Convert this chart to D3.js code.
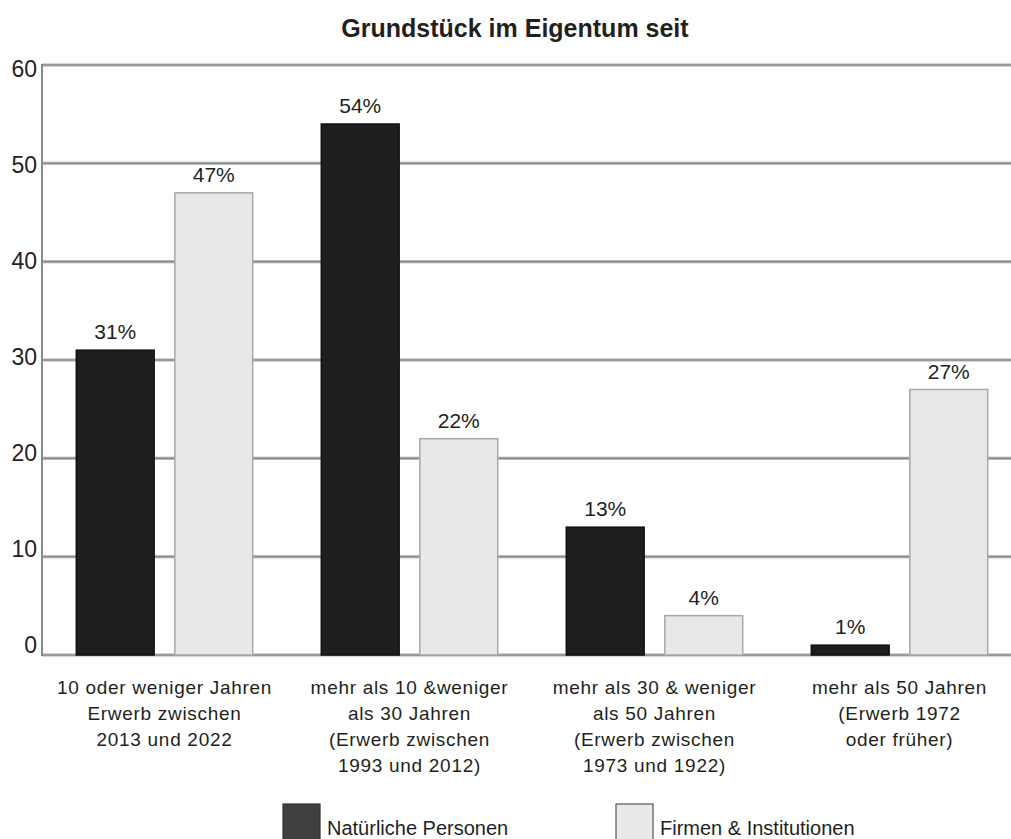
<!DOCTYPE html>
<meta charset="utf-8">
<style>
    body { margin: 0; background: #fff; }
    svg { display: block; }
    .title { font: bold 25px "Liberation Sans Narrow", "Liberation Sans", sans-serif; fill: #231f20; text-anchor: middle; }
    .ytick { font: 23px "Liberation Sans", sans-serif; fill: #231f20; text-anchor: end; }
    .val { font: 21px "Liberation Sans", sans-serif; fill: #231f20; text-anchor: middle; }
    .cat { font: 19px "Liberation Sans", sans-serif; fill: #231f20; text-anchor: middle; letter-spacing: 0.7px; }
    .leg { font: 20px "Liberation Sans", sans-serif; fill: #231f20; }
</style>
<svg width="1011" height="839"></svg>
<script src="https://d3js.org/d3.v7.min.js"></script>
<script>

    var categories = [
        ["10 oder weniger Jahren", "Erwerb zwischen", "2013 und 2022"],
        ["mehr als 10 &weniger", "als 30 Jahren", "(Erwerb zwischen", "1993 und 2012)"],
        ["mehr als 30 & weniger", "als 50 Jahren", "(Erwerb zwischen", "1973 und 1922)"],
        ["mehr als 50 Jahren", "(Erwerb 1972", "oder früher)"]
    ];
    var seriesNames = ["Natürliche Personen", "Firmen & Institutionen"];
    var natuerliche = [31, 54, 13, 1];
    var firmen = [47, 22, 4, 27];
    var yTicks = [0, 10, 20, 30, 40, 50, 60];

    var svg = d3.select("svg");

    var x0 = d3.scaleBand()
            .domain(d3.range(categories.length))
            .range([42, 1022])
            .paddingInner(0.28)
            .paddingOuter(0.14);

    var x1 = d3.scaleBand()
            .domain(d3.range(seriesNames.length))
            .range([0, x0.bandwidth()])
            .paddingInner(0.21);

    var y = d3.scaleLinear().domain([0, 60]).range([655, 65]);

    var fills = ["#1e1e1e", "#e8e8e8"];
    var strokes = ["#111", "#a8a8a8"];

    svg.append("text").attr("class", "title")
            .attr("x", 515).attr("y", 37)
            .text("Grundstück im Eigentum seit");

    // gridlines
    svg.selectAll(".grid").data(yTicks).enter().append("line")
            .attr("x1", 42).attr("x2", 1011)
            .attr("y1", function(d) { return y(d); })
            .attr("y2", function(d) { return y(d); })
            .attr("stroke", "#c8c8c8").attr("stroke-width", 3.5);
    svg.selectAll(".grid2").data(yTicks).enter().append("line")
            .attr("x1", 42).attr("x2", 1011)
            .attr("y1", function(d) { return y(d); })
            .attr("y2", function(d) { return y(d); })
            .attr("stroke", "#8a8a8a").attr("stroke-width", 1.6);

    svg.append("line")
            .attr("x1", 42).attr("x2", 42)
            .attr("y1", y(60) - 1).attr("y2", y(0) + 1)
            .attr("stroke", "#8a8a8a").attr("stroke-width", 2);

    svg.selectAll(".ytick").data(yTicks).enter().append("text")
            .attr("class", "ytick")
            .attr("x", 37)
            .attr("y", function(d) { return y(d); })
            .attr("dy", function(d) { return (-2 + d * 0.23) + "px"; })
            .text(function(d) { return d; });

    var rows = categories.map(function(c, i) {
        return [natuerliche[i], firmen[i]];
    });

    var groups = svg.selectAll(".grp").data(rows).enter().append("g")
            .attr("transform", function(d, i) { return "translate(" + x0(i) + ",0)"; });

    var bars = groups.selectAll("g").data(function(d) { return d; }).enter().append("g");

    bars.append("rect")
            .attr("x", function(d, j) { return x1(j); })
            .attr("y", function(d) { return y(d); })
            .attr("width", x1.bandwidth())
            .attr("height", function(d) { return y(0) - y(d); })
            .attr("fill", function(d, j) { return fills[j]; })
            .attr("stroke", function(d, j) { return strokes[j]; })
            .attr("stroke-width", 1.5);

    bars.append("text").attr("class", "val")
            .attr("x", function(d, j) { return x1(j) + x1.bandwidth() / 2; })
            .attr("y", function(d) { return y(d) - 11; })
            .text(function(d) { return d + "%"; });

    svg.selectAll(".cat").data(categories).enter().append("text")
            .attr("class", "cat")
            .attr("x", function(d, i) { return x0(i) + x0.bandwidth() / 2; })
            .attr("y", 694)
            .selectAll("tspan").data(function(d) { return d; }).enter().append("tspan")
            .attr("x", function() { return d3.select(this.parentNode).attr("x"); })
            .attr("dy", function(d, k) { return k === 0 ? 0 : 26; })
            .text(function(d) { return d; });

    // legend
    var legX = [283, 616];
    var legFill = ["#404040", "#e9e9ea"];
    var legStroke = ["#333", "#555"];
    var leg = svg.selectAll(".legend").data(seriesNames).enter().append("g")
            .attr("transform", function(d, i) { return "translate(" + legX[i] + ",804)"; });
    leg.append("rect")
            .attr("width", 37).attr("height", 40)
            .attr("fill", function(d, i) { return legFill[i]; })
            .attr("stroke", function(d, i) { return legStroke[i]; })
            .attr("stroke-width", 1.2);
    leg.append("text").attr("class", "leg")
            .attr("x", 44).attr("y", 31)
            .text(function(d) { return d; });

</script>
